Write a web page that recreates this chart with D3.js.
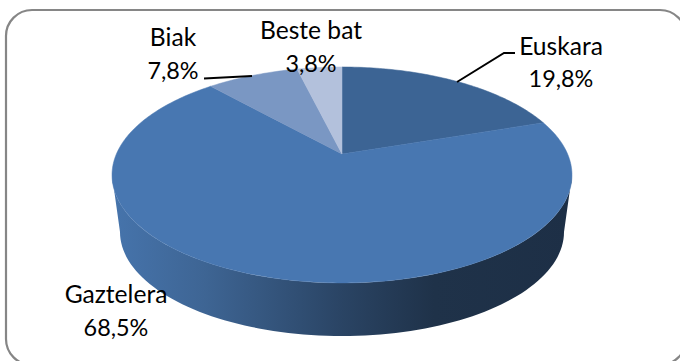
<!DOCTYPE html>
<html><head><meta charset="utf-8">
<style>html,body{margin:0;padding:0;background:#fff;overflow:hidden}svg{display:block}text{font-family:Lato,"Open Sans",sans-serif;fill:#000;text-anchor:middle}.name{font-size:24.6px}.val{font-size:23.4px}</style>
<script src="https://cdn.jsdelivr.net/npm/d3@7/dist/d3.min.js"></script></head><body>
<script>
const categories=["Euskara","Gaztelera","Biak","Beste bat"];
const values=[19.8,68.5,7.8,3.8];
const valueLabels=["19,8%","68,5%","7,8%","3,8%"];
const colors=["#3c6494","#4877b1","#7a97c3","#b3c1dc"];
const labelPos=[[561,55,87],[116,303,336],[173,46,79],[311,39,72]];
const leaders=[[[457,82],[504,53],[515,53]],null,[[204,78.5],[252,76]],null];

const W=680,H=361,cx=342,apexY=154,persp=0.194,sx=225.6,sy=103.9;
const svg=d3.select("body").append("svg").attr("width",W).attr("height",H);
const defs=svg.append("defs");
const grad=defs.append("linearGradient").attr("id","side").attr("gradientUnits","userSpaceOnUse")
  .attr("x1",112).attr("x2",572).attr("y1",0).attr("y2",0);
[[0,"#4674ac"],[0.2,"#3e6594"],[0.5,"#2a4464"],[0.7,"#1f3249"],[1,"#1d2f46"]]
  .forEach(s=>grad.append("stop").attr("offset",s[0]).attr("stop-color",s[1]));

svg.append("rect").attr("x",6).attr("y",10).attr("width",680).attr("height",355).attr("rx",26)
  .attr("fill","#fff").attr("stroke","#868686").attr("stroke-width",2.2);

// angle a is clockwise from the top of the disc; perspective makes the near edge larger
const project=a=>{const u=Math.sin(a),v=-Math.cos(a),d=1-persp*v;return [cx+sx*u/d,apexY+sy*v/d];};
const line=d3.line();

// side wall: lower half of the top rim joined to the lower half of the base rim
const topCy=175,topRy=108,topRx=230,baseCy=232,baseRy=104,baseRx=222;
const half=d3.range(0,Math.PI+0.001,Math.PI/90);
const wall=[...half.map(t=>[cx+topRx*Math.cos(t),topCy+topRy*Math.sin(t)]).reverse(),
            ...half.map(t=>[cx+baseRx*Math.cos(t),baseCy+baseRy*Math.sin(t)])];
svg.append("path").attr("d",line(wall)+"Z").attr("fill","url(#side)");

const pie=d3.pie().sort(null).value(d=>d)(values);
svg.append("g").selectAll("path").data(pie).join("path")
  .attr("d",d=>{
    const n=Math.max(8,Math.ceil((d.endAngle-d.startAngle)*60));
    const pts=d3.range(n+1).map(i=>project(d.startAngle+(d.endAngle-d.startAngle)*i/n));
    return line([[cx,apexY],...pts])+"Z";
  })
  .attr("fill",(d,i)=>colors[i]).attr("stroke",(d,i)=>colors[i]).attr("stroke-width",0.5);

svg.append("g").selectAll("path").data(leaders.filter(Boolean)).join("path")
  .attr("d",d=>line(d)).attr("fill","none").attr("stroke","#000").attr("stroke-width",2);

const labels=svg.append("g").selectAll("g").data(categories).join("g");
labels.append("text").attr("class","name").attr("x",(d,i)=>labelPos[i][0]).attr("y",(d,i)=>labelPos[i][1]).text(d=>d);
labels.append("text").attr("class","val").attr("x",(d,i)=>labelPos[i][0]).attr("y",(d,i)=>labelPos[i][2]).text((d,i)=>valueLabels[i]);
</script></body></html>
